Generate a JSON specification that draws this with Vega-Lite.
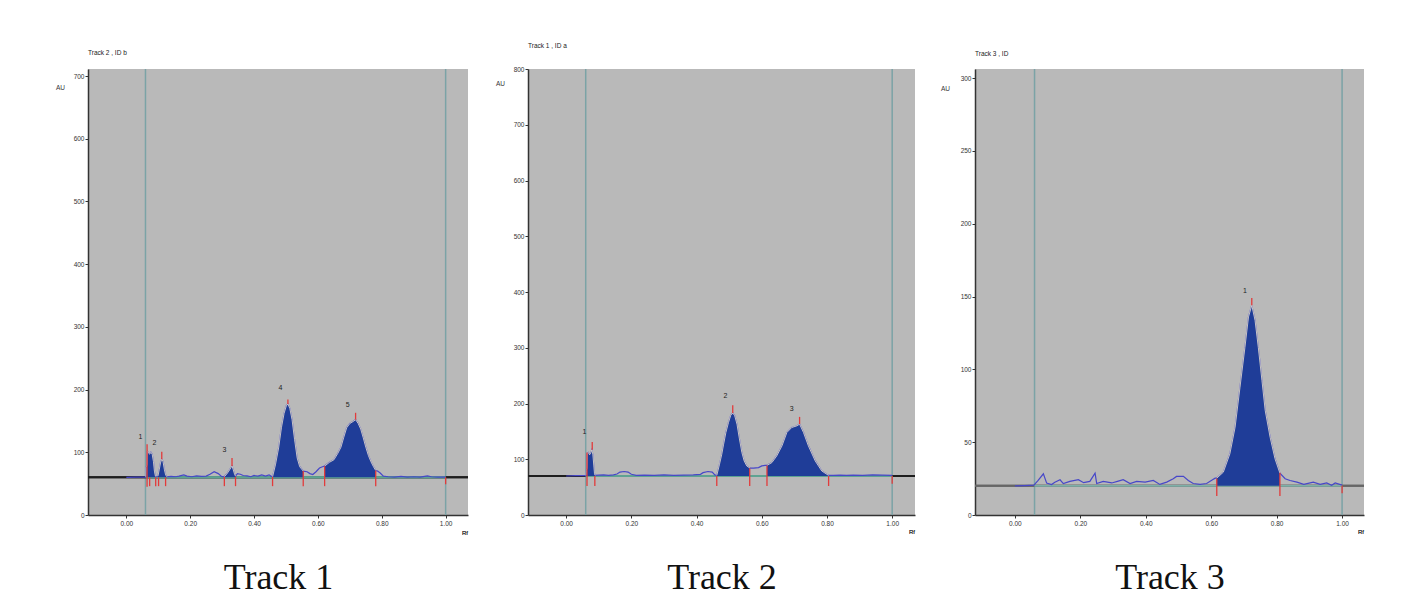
{
  "$schema": "https://vega.github.io/schema/vega-lite/v6.json",
  "background": "white",
  "padding": {"left": 55, "top": 42, "right": 10, "bottom": 5},
  "bounds": "flush",
  "spacing": 60,
  "datasets": {
    "t1": [
      {"rf":0.0,"au":60},{"rf":0.03,"au":60.5},{"rf":0.058,"au":60.5},
      {"rf":0.061,"au":61,"peak":1},{"rf":0.062,"au":76,"peak":1},{"rf":0.065,"au":80,"peak":1},{"rf":0.066,"au":102,"peak":1},{"rf":0.069,"au":99,"peak":1},{"rf":0.073,"au":97,"peak":1},{"rf":0.077,"au":100,"peak":1},{"rf":0.081,"au":97,"peak":1},{"rf":0.085,"au":85,"peak":1},{"rf":0.088,"au":70,"peak":1},{"rf":0.091,"au":62,"peak":1},{"rf":0.094,"au":61,"peak":1},
      {"rf":0.099,"au":62,"peak":2},{"rf":0.103,"au":72,"peak":2},{"rf":0.107,"au":83,"peak":2},{"rf":0.111,"au":89,"peak":2},{"rf":0.115,"au":85,"peak":2},{"rf":0.119,"au":73,"peak":2},{"rf":0.123,"au":64,"peak":2},{"rf":0.127,"au":61,"peak":2},
      {"rf":0.14,"au":61.5},{"rf":0.155,"au":61},{"rf":0.165,"au":62},{"rf":0.18,"au":64},{"rf":0.19,"au":62},{"rf":0.205,"au":61},{"rf":0.22,"au":62.5},{"rf":0.235,"au":61.5},{"rf":0.25,"au":62},{"rf":0.262,"au":65},{"rf":0.275,"au":69},{"rf":0.288,"au":66},{"rf":0.298,"au":61.5},
      {"rf":0.307,"au":61,"peak":3},{"rf":0.314,"au":65,"peak":3},{"rf":0.321,"au":70,"peak":3},{"rf":0.327,"au":75,"peak":3},{"rf":0.331,"au":78,"peak":3},{"rf":0.335,"au":72,"peak":3},{"rf":0.339,"au":65,"peak":3},{"rf":0.342,"au":62,"peak":3},
      {"rf":0.348,"au":66},{"rf":0.357,"au":65},{"rf":0.366,"au":63},{"rf":0.378,"au":62.5},{"rf":0.39,"au":61},{"rf":0.4,"au":63},{"rf":0.412,"au":62},{"rf":0.424,"au":64},{"rf":0.436,"au":62},{"rf":0.447,"au":64},{"rf":0.453,"au":62},
      {"rf":0.458,"au":61,"peak":4},{"rf":0.467,"au":80,"peak":4},{"rf":0.477,"au":107,"peak":4},{"rf":0.486,"au":140,"peak":4},{"rf":0.494,"au":162,"peak":4},{"rf":0.501,"au":174,"peak":4},{"rf":0.506,"au":177,"peak":4},{"rf":0.512,"au":170,"peak":4},{"rf":0.519,"au":152,"peak":4},{"rf":0.527,"au":120,"peak":4},{"rf":0.535,"au":91,"peak":4},{"rf":0.543,"au":77,"peak":4},{"rf":0.554,"au":70,"peak":4},
      {"rf":0.566,"au":69},{"rf":0.575,"au":66},{"rf":0.584,"au":64.5},{"rf":0.594,"au":69},{"rf":0.605,"au":75},{"rf":0.614,"au":77},
      {"rf":0.621,"au":78,"peak":5},{"rf":0.636,"au":84,"peak":5},{"rf":0.65,"au":88,"peak":5},{"rf":0.662,"au":98,"peak":5},{"rf":0.672,"au":108,"peak":5},{"rf":0.681,"au":124,"peak":5},{"rf":0.69,"au":139,"peak":5},{"rf":0.7,"au":146,"peak":5},{"rf":0.71,"au":149,"peak":5},{"rf":0.718,"au":152,"peak":5},{"rf":0.726,"au":146,"peak":5},{"rf":0.734,"au":137,"peak":5},{"rf":0.742,"au":123,"peak":5},{"rf":0.75,"au":108,"peak":5},{"rf":0.758,"au":95,"peak":5},{"rf":0.766,"au":85,"peak":5},{"rf":0.774,"au":77,"peak":5},{"rf":0.781,"au":71,"peak":5},
      {"rf":0.787,"au":70},{"rf":0.795,"au":67},{"rf":0.805,"au":62},{"rf":0.82,"au":61},{"rf":0.84,"au":60.5},{"rf":0.86,"au":61.5},{"rf":0.88,"au":60.5},{"rf":0.9,"au":61},{"rf":0.92,"au":60.5},{"rf":0.943,"au":62.5},{"rf":0.955,"au":61},{"rf":0.975,"au":60.5},{"rf":1.0,"au":60.5}
    ],
    "m1": [
      {"rf":0.065,"au":45,"au2":113},{"rf":0.073,"au":46,"au2":60},{"rf":0.092,"au":46,"au2":60},{"rf":0.101,"au":46,"au2":60},{"rf":0.123,"au":46,"au2":60},{"rf":0.111,"au":89,"au2":101},
      {"rf":0.307,"au":46,"au2":61},{"rf":0.342,"au":46,"au2":61},{"rf":0.331,"au":78,"au2":91},
      {"rf":0.458,"au":46,"au2":61},{"rf":0.554,"au":46,"au2":70},{"rf":0.506,"au":177,"au2":184},
      {"rf":0.621,"au":46,"au2":78},{"rf":0.781,"au":46,"au2":71},{"rf":0.718,"au":152,"au2":163},
      {"rf":1.0,"au":49,"au2":60}
    ],
    "l1": [
      {"rf":0.044,"au":124,"label":"1"},{"rf":0.088,"au":115,"label":"2"},{"rf":0.307,"au":104,"label":"3"},{"rf":0.483,"au":203,"label":"4"},{"rf":0.693,"au":175,"label":"5"}
    ],
    "t2": [
      {"rf":0.0,"au":70},{"rf":0.03,"au":70.5},{"rf":0.058,"au":70.5},
      {"rf":0.061,"au":71,"peak":1},{"rf":0.062,"au":80,"peak":1},{"rf":0.064,"au":84,"peak":1},{"rf":0.065,"au":110,"peak":1},{"rf":0.068,"au":112,"peak":1},{"rf":0.072,"au":108,"peak":1},{"rf":0.076,"au":112,"peak":1},{"rf":0.079,"au":117,"peak":1},{"rf":0.082,"au":108,"peak":1},{"rf":0.085,"au":88,"peak":1},{"rf":0.087,"au":74,"peak":1},{"rf":0.089,"au":71,"peak":1},
      {"rf":0.1,"au":71.5},{"rf":0.115,"au":72},{"rf":0.13,"au":71},{"rf":0.145,"au":72},{"rf":0.156,"au":73.5},{"rf":0.165,"au":77},{"rf":0.178,"au":78},{"rf":0.19,"au":77},{"rf":0.2,"au":73},{"rf":0.215,"au":71},{"rf":0.24,"au":71.5},{"rf":0.27,"au":71},{"rf":0.3,"au":72},{"rf":0.33,"au":71},{"rf":0.36,"au":71.5},{"rf":0.39,"au":72},{"rf":0.412,"au":73},{"rf":0.42,"au":76},{"rf":0.435,"au":78},{"rf":0.448,"au":77},{"rf":0.456,"au":72},
      {"rf":0.462,"au":71,"peak":2},{"rf":0.47,"au":90,"peak":2},{"rf":0.477,"au":108,"peak":2},{"rf":0.483,"au":127,"peak":2},{"rf":0.49,"au":148,"peak":2},{"rf":0.498,"au":166,"peak":2},{"rf":0.505,"au":179,"peak":2},{"rf":0.511,"au":183,"peak":2},{"rf":0.517,"au":178,"peak":2},{"rf":0.524,"au":163,"peak":2},{"rf":0.531,"au":138,"peak":2},{"rf":0.539,"au":112,"peak":2},{"rf":0.546,"au":97,"peak":2},{"rf":0.554,"au":88,"peak":2},{"rf":0.564,"au":84,"peak":2},
      {"rf":0.575,"au":84},{"rf":0.59,"au":85},{"rf":0.6,"au":88},{"rf":0.61,"au":89},
      {"rf":0.616,"au":89,"peak":3},{"rf":0.631,"au":94,"peak":3},{"rf":0.646,"au":106,"peak":3},{"rf":0.662,"au":124,"peak":3},{"rf":0.677,"au":148,"peak":3},{"rf":0.692,"au":157,"peak":3},{"rf":0.708,"au":160,"peak":3},{"rf":0.716,"au":163,"peak":3},{"rf":0.728,"au":148,"peak":3},{"rf":0.743,"au":124,"peak":3},{"rf":0.764,"au":97,"peak":3},{"rf":0.784,"au":79,"peak":3},{"rf":0.805,"au":71,"peak":3},
      {"rf":0.82,"au":71},{"rf":0.84,"au":71.5},{"rf":0.86,"au":71},{"rf":0.88,"au":71.5},{"rf":0.91,"au":71},{"rf":0.94,"au":72},{"rf":0.97,"au":71.5},{"rf":1.0,"au":71}
    ],
    "m2": [
      {"rf":0.064,"au":52,"au2":112},{"rf":0.088,"au":52,"au2":70},{"rf":0.08,"au":117,"au2":131},
      {"rf":0.462,"au":52,"au2":70},{"rf":0.563,"au":52,"au2":84},{"rf":0.511,"au":183,"au2":197},
      {"rf":0.616,"au":52,"au2":89},{"rf":0.805,"au":52,"au2":70},{"rf":0.716,"au":163,"au2":176},
      {"rf":1.0,"au":56,"au2":70}
    ],
    "l2": [
      {"rf":0.056,"au":148,"label":"1"},{"rf":0.489,"au":213,"label":"2"},{"rf":0.692,"au":190,"label":"3"}
    ],
    "t3": [
      {"rf":0.0,"au":20},{"rf":0.03,"au":20.2},{"rf":0.058,"au":20.5},{"rf":0.071,"au":23.7},{"rf":0.087,"au":28.3},{"rf":0.097,"au":21.9},{"rf":0.112,"au":20.9},{"rf":0.122,"au":22.5},{"rf":0.138,"au":24.2},{"rf":0.148,"au":21.6},{"rf":0.168,"au":23.1},{"rf":0.194,"au":24.2},{"rf":0.21,"au":22.2},{"rf":0.229,"au":23.1},{"rf":0.245,"au":28.7},{"rf":0.25,"au":21.6},{"rf":0.27,"au":23.1},{"rf":0.296,"au":22},{"rf":0.316,"au":23.3},{"rf":0.331,"au":24.2},{"rf":0.352,"au":21.6},{"rf":0.372,"au":23.1},{"rf":0.398,"au":22.6},{"rf":0.423,"au":23.7},{"rf":0.443,"au":21},{"rf":0.464,"au":22.6},{"rf":0.484,"au":24.9},{"rf":0.494,"au":26.5},{"rf":0.515,"au":26.5},{"rf":0.53,"au":23.7},{"rf":0.545,"au":21.6},{"rf":0.566,"au":21},{"rf":0.586,"au":21.6},{"rf":0.604,"au":24.2},{"rf":0.612,"au":25.3},
      {"rf":0.617,"au":25.3,"peak":1},{"rf":0.637,"au":29.4,"peak":1},{"rf":0.657,"au":42,"peak":1},{"rf":0.673,"au":60.3,"peak":1},{"rf":0.688,"au":87.8,"peak":1},{"rf":0.703,"au":115,"peak":1},{"rf":0.714,"au":136,"peak":1},{"rf":0.724,"au":144,"peak":1},{"rf":0.734,"au":133.6,"peak":1},{"rf":0.744,"au":115,"peak":1},{"rf":0.755,"au":92.4,"peak":1},{"rf":0.765,"au":71.8,"peak":1},{"rf":0.78,"au":53.4,"peak":1},{"rf":0.795,"au":38.6,"peak":1},{"rf":0.81,"au":28.7,"peak":1},
      {"rf":0.826,"au":24.9},{"rf":0.841,"au":23.7},{"rf":0.862,"au":22.6},{"rf":0.883,"au":21},{"rf":0.912,"au":22.6},{"rf":0.933,"au":21},{"rf":0.953,"au":22},{"rf":0.968,"au":20.4},{"rf":0.979,"au":22},{"rf":1.0,"au":20.5}
    ],
    "m3": [
      {"rf":0.617,"au":13,"au2":25},{"rf":0.81,"au":13,"au2":29},{"rf":0.724,"au":144,"au2":149},{"rf":1.0,"au":15,"au2":20}
    ],
    "l3": [
      {"rf":0.703,"au":154,"label":"1"}
    ],
    "scan": [{"rf":0.06},{"rf":1.0}]
  },
  "hconcat": [
    {
      "width": 380, "height": 446,
      "title": {"text": "Track 2 , ID b", "anchor": "start", "frame": "group", "offset": 12, "fontSize": 6.5, "fontWeight": "normal", "font": "Liberation Sans", "color": "#222"},
      "view": {"fill": "#b9b9b9", "stroke": null},
      "layer": [
        {"data": {"name": "scan"}, "mark": {"type": "rule", "color": "#7ba3a6", "strokeWidth": 1.5},
         "encoding": {"x": {"field": "rf", "type": "quantitative", "scale": {"domain": [-0.12, 1.07], "nice": false, "zero": false}, "axis": {"values": [0, 0.2, 0.4, 0.6, 0.8, 1.0], "format": ".2f", "title": "Track 1"}}}},
        {"data": {"name": "scan"}, "mark": {"type": "rule", "color": "#1e1e1e", "strokeWidth": 2},
         "encoding": {"y": {"datum": 60, "type": "quantitative", "scale": {"domain": [0, 711.2], "nice": false}, "axis": {"values": [0, 100, 200, 300, 400, 500, 600, 700], "title": "AU", "titleX": -28, "titleY": 18}}}},
        {"data": {"name": "scan"}, "mark": {"type": "rule", "color": "#5ea392", "strokeWidth": 2},
         "encoding": {"x": {"datum": 0.06, "type": "quantitative"}, "x2": {"datum": 1.0}, "y": {"datum": 60, "type": "quantitative"}}},
        {"data": {"name": "t1"}, "mark": {"type": "line", "color": "#4747c9", "strokeWidth": 1.2},
         "encoding": {"x": {"field": "rf", "type": "quantitative"}, "y": {"field": "au", "type": "quantitative"}}},
        {"data": {"name": "t1"}, "transform": [{"filter": "datum.peak != null"}], "mark": {"type": "area", "color": "#1f3d98", "opacity": 1},
         "encoding": {"x": {"field": "rf", "type": "quantitative"}, "y": {"field": "au", "type": "quantitative"}, "y2": {"datum": 60}, "detail": {"field": "peak"}}},
        {"data": {"name": "t1"}, "transform": [{"filter": "datum.peak != null"}], "mark": {"type": "line", "color": "#ece5c8", "strokeWidth": 0.8},
         "encoding": {"x": {"field": "rf", "type": "quantitative"}, "y": {"field": "au", "type": "quantitative"}, "detail": {"field": "peak"}}},
        {"data": {"name": "m1"}, "mark": {"type": "rule", "color": "#e23b3b", "strokeWidth": 1.3},
         "encoding": {"x": {"field": "rf", "type": "quantitative"}, "y": {"field": "au", "type": "quantitative"}, "y2": {"field": "au2"}}},
        {"data": {"name": "l1"}, "mark": {"type": "text", "fontSize": 7, "color": "#222", "font": "Liberation Sans"},
         "encoding": {"x": {"field": "rf", "type": "quantitative"}, "y": {"field": "au", "type": "quantitative"}, "text": {"field": "label"}}},
        {"data": {"name": "scan"}, "mark": {"type": "text", "fontSize": 6, "color": "#333", "align": "right", "baseline": "middle", "font": "Liberation Sans"},
         "encoding": {"x": {"datum": 1.07, "type": "quantitative"}, "y": {"datum": -29, "type": "quantitative"}, "text": {"value": "Rf"}}}
      ]
    },
    {
      "width": 387, "height": 446,
      "title": {"text": "Track 1 , ID a", "anchor": "start", "frame": "group", "offset": 17, "fontSize": 6.5, "fontWeight": "normal", "font": "Liberation Sans", "color": "#222"},
      "view": {"fill": "#b9b9b9", "stroke": null},
      "layer": [
        {"data": {"name": "scan"}, "mark": {"type": "rule", "color": "#7ba3a6", "strokeWidth": 1.5},
         "encoding": {"x": {"field": "rf", "type": "quantitative", "scale": {"domain": [-0.117, 1.07], "nice": false, "zero": false}, "axis": {"values": [0, 0.2, 0.4, 0.6, 0.8, 1.0], "format": ".2f", "title": "Track 2"}}}},
        {"data": {"name": "scan"}, "mark": {"type": "rule", "color": "#1e1e1e", "strokeWidth": 2},
         "encoding": {"y": {"datum": 70, "type": "quantitative", "scale": {"domain": [0, 800], "nice": false}, "axis": {"values": [0, 100, 200, 300, 400, 500, 600, 700, 800], "title": "AU", "titleX": -28, "titleY": 14}}}},
        {"data": {"name": "scan"}, "mark": {"type": "rule", "color": "#5ea392", "strokeWidth": 2},
         "encoding": {"x": {"datum": 0.06, "type": "quantitative"}, "x2": {"datum": 1.0}, "y": {"datum": 70, "type": "quantitative"}}},
        {"data": {"name": "t2"}, "mark": {"type": "line", "color": "#4747c9", "strokeWidth": 1.2},
         "encoding": {"x": {"field": "rf", "type": "quantitative"}, "y": {"field": "au", "type": "quantitative"}}},
        {"data": {"name": "t2"}, "transform": [{"filter": "datum.peak != null"}], "mark": {"type": "area", "color": "#1f3d98", "opacity": 1},
         "encoding": {"x": {"field": "rf", "type": "quantitative"}, "y": {"field": "au", "type": "quantitative"}, "y2": {"datum": 70}, "detail": {"field": "peak"}}},
        {"data": {"name": "t2"}, "transform": [{"filter": "datum.peak != null"}], "mark": {"type": "line", "color": "#ece5c8", "strokeWidth": 0.8},
         "encoding": {"x": {"field": "rf", "type": "quantitative"}, "y": {"field": "au", "type": "quantitative"}, "detail": {"field": "peak"}}},
        {"data": {"name": "m2"}, "mark": {"type": "rule", "color": "#e23b3b", "strokeWidth": 1.3},
         "encoding": {"x": {"field": "rf", "type": "quantitative"}, "y": {"field": "au", "type": "quantitative"}, "y2": {"field": "au2"}}},
        {"data": {"name": "l2"}, "mark": {"type": "text", "fontSize": 7, "color": "#222", "font": "Liberation Sans"},
         "encoding": {"x": {"field": "rf", "type": "quantitative"}, "y": {"field": "au", "type": "quantitative"}, "text": {"field": "label"}}},
        {"data": {"name": "scan"}, "mark": {"type": "text", "fontSize": 6, "color": "#333", "align": "right", "baseline": "middle", "font": "Liberation Sans"},
         "encoding": {"x": {"datum": 1.07, "type": "quantitative"}, "y": {"datum": -30, "type": "quantitative"}, "text": {"value": "Rf"}}}
      ]
    },
    {
      "width": 389, "height": 446,
      "title": {"text": "Track 3 , ID", "anchor": "start", "frame": "group", "offset": 11, "fontSize": 6.5, "fontWeight": "normal", "font": "Liberation Sans", "color": "#222"},
      "view": {"fill": "#b9b9b9", "stroke": null},
      "layer": [
        {"data": {"name": "scan"}, "mark": {"type": "rule", "color": "#7ba3a6", "strokeWidth": 1.5},
         "encoding": {"x": {"field": "rf", "type": "quantitative", "scale": {"domain": [-0.122, 1.067], "nice": false, "zero": false}, "axis": {"values": [0, 0.2, 0.4, 0.6, 0.8, 1.0], "format": ".2f", "title": "Track 3"}}}},
        {"data": {"name": "scan"}, "mark": {"type": "rule", "color": "#666666", "strokeWidth": 2},
         "encoding": {"y": {"datum": 20, "type": "quantitative", "scale": {"domain": [0, 306.2], "nice": false}, "axis": {"values": [0, 50, 100, 150, 200, 250, 300], "title": "AU", "titleX": -30, "titleY": 19}}}},
        {"data": {"name": "scan"}, "mark": {"type": "rule", "color": "#7fb0a8", "strokeWidth": 1.5},
         "encoding": {"x": {"datum": 0.06, "type": "quantitative"}, "x2": {"datum": 1.0}, "y": {"datum": 20, "type": "quantitative"}}},
        {"data": {"name": "t3"}, "mark": {"type": "line", "color": "#4747c9", "strokeWidth": 1.2},
         "encoding": {"x": {"field": "rf", "type": "quantitative"}, "y": {"field": "au", "type": "quantitative"}}},
        {"data": {"name": "t3"}, "transform": [{"filter": "datum.peak != null"}], "mark": {"type": "area", "color": "#1f3d98", "opacity": 1},
         "encoding": {"x": {"field": "rf", "type": "quantitative"}, "y": {"field": "au", "type": "quantitative"}, "y2": {"datum": 20}, "detail": {"field": "peak"}}},
        {"data": {"name": "t3"}, "transform": [{"filter": "datum.peak != null"}], "mark": {"type": "line", "color": "#ece5c8", "strokeWidth": 0.8},
         "encoding": {"x": {"field": "rf", "type": "quantitative"}, "y": {"field": "au", "type": "quantitative"}, "detail": {"field": "peak"}}},
        {"data": {"name": "m3"}, "mark": {"type": "rule", "color": "#e23b3b", "strokeWidth": 1.3},
         "encoding": {"x": {"field": "rf", "type": "quantitative"}, "y": {"field": "au", "type": "quantitative"}, "y2": {"field": "au2"}}},
        {"data": {"name": "l3"}, "mark": {"type": "text", "fontSize": 7, "color": "#222", "font": "Liberation Sans"},
         "encoding": {"x": {"field": "rf", "type": "quantitative"}, "y": {"field": "au", "type": "quantitative"}, "text": {"field": "label"}}},
        {"data": {"name": "scan"}, "mark": {"type": "text", "fontSize": 6, "color": "#333", "align": "right", "baseline": "middle", "font": "Liberation Sans"},
         "encoding": {"x": {"datum": 1.067, "type": "quantitative"}, "y": {"datum": -12, "type": "quantitative"}, "text": {"value": "Rf"}}}
      ]
    }
  ],
  "config": {
    "view": {"stroke": null},
    "font": "Liberation Sans",
    "axis": {"grid": false, "domainColor": "#333", "domainWidth": 1.5, "tickColor": "#333", "tickSize": 3, "labelFontSize": 6.5, "labelColor": "#333", "labelFont": "Liberation Sans", "titleFont": "Liberation Sans", "titleFontSize": 6.5, "titleFontWeight": "normal", "titleColor": "#333", "labelPadding": 2},
    "axisY": {"titleAngle": 0, "titleAlign": "center", "titleBaseline": "middle", "labelPadding": 1},
    "axisX": {"titleFont": "Liberation Serif", "titleFontSize": 36, "titleColor": "#111", "titlePadding": 34}
  }
}
